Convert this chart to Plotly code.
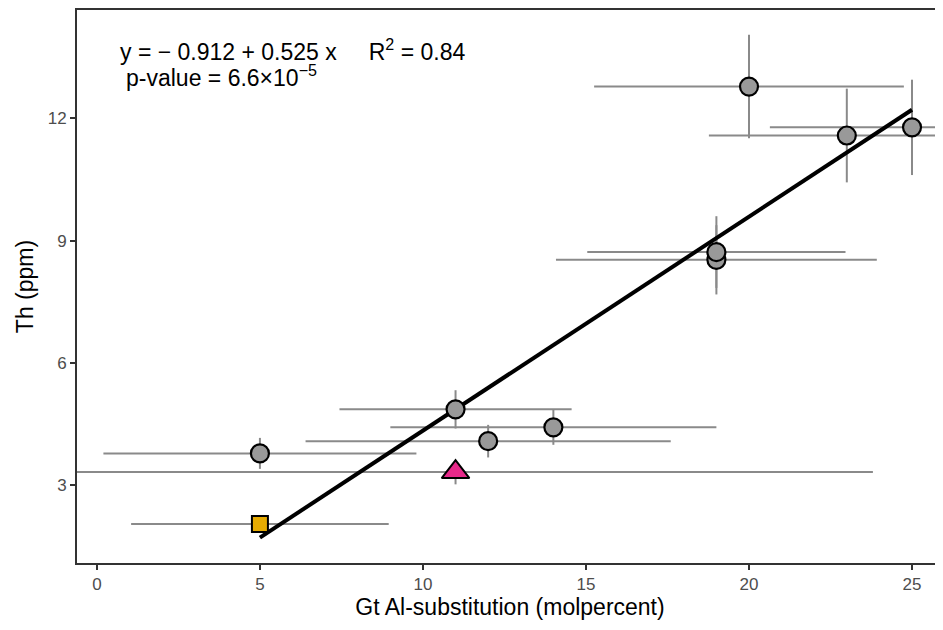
import plotly.graph_objects as go

# Data: Gt Al-substitution (molpercent) vs Th (ppm)
circle_x = [5, 11, 12, 14, 19, 19, 20, 23, 25]
circle_y = [3.78, 4.86, 4.08, 4.42, 8.53, 8.72, 12.78, 11.58, 11.78]
circle_xerr = [4.8, 3.56, 5.6, 5.0, 4.92, 3.96, 4.75, 4.23, 4.36]
circle_yerr = [0.38, 0.47, 0.4, 0.43, 0.85, 0.88, 1.27, 1.15, 1.17]

square_x = [5]
square_y = [2.05]
square_xerr = [3.95]
square_yerr = [0.0]

triangle_x = [11]
triangle_y = [3.32]
triangle_xerr = [12.8]
triangle_yerr = [0.3]

# regression coefficients
intercept = -0.912
slope = 0.525
fit_x = [5, 25]
fit_y = [intercept + slope * v for v in fit_x]

x_ticks = [0, 5, 10, 15, 20, 25]
y_ticks = [3, 6, 9, 12]

ERR_COL = "#8a8a8a"
FONT = "Liberation Sans, Arial, Helvetica"

fig = go.Figure()

def err_trace(xs, ys, xe, ye):
    return go.Scatter(
        x=xs, y=ys, mode="markers",
        marker=dict(size=0.1, opacity=0),
        error_x=dict(type="data", array=xe, color=ERR_COL, thickness=2, width=0),
        error_y=dict(type="data", array=ye, color=ERR_COL, thickness=2, width=0),
        showlegend=False, hoverinfo="skip")

fig.add_trace(err_trace(circle_x, circle_y, circle_xerr, circle_yerr))
fig.add_trace(err_trace(square_x, square_y, square_xerr, square_yerr))
fig.add_trace(err_trace(triangle_x, triangle_y, triangle_xerr, triangle_yerr))

fig.add_trace(go.Scatter(x=fit_x, y=fit_y, mode="lines",
                         line=dict(color="black", width=4), showlegend=False))

fig.add_trace(go.Scatter(x=circle_x, y=circle_y, mode="markers",
                         marker=dict(symbol="circle", size=18, color="#999999",
                                     line=dict(color="black", width=2.2)),
                         showlegend=False))
fig.add_trace(go.Scatter(x=square_x, y=square_y, mode="markers",
                         marker=dict(symbol="square", size=16, color="#E6AB02",
                                     line=dict(color="black", width=2)),
                         showlegend=False))
fig.add_trace(go.Scatter(x=triangle_x, y=triangle_y, mode="markers",
                         marker=dict(symbol="triangle-up", size=24, color="#E7298A",
                                     line=dict(color="black", width=2)),
                         showlegend=False))

fig.add_annotation(xref="paper", yref="paper", x=0.047, y=0.958,
                   xanchor="left", yanchor="top", showarrow=False,
                   text="y = \u2212 0.912 + 0.525 x&nbsp;&nbsp;&nbsp;&nbsp;&nbsp;R<sup>2</sup> = 0.84",
                   font=dict(family=FONT, size=23, color="black"))
fig.add_annotation(xref="paper", yref="paper", x=0.054, y=0.912,
                   xanchor="left", yanchor="top", showarrow=False,
                   text="p-value = 6.6\u00d710<sup>\u22125</sup>",
                   font=dict(family=FONT, size=23, color="black"))

fig.update_layout(
    width=935, height=622,
    margin=dict(l=69, r=0, t=0, b=67),
    plot_bgcolor="white", paper_bgcolor="white",
    font=dict(family=FONT, color="black"),
    xaxis=dict(range=[-0.61, 25.95], tickvals=x_ticks, showgrid=False, zeroline=False,
               showline=True, linecolor="#333333", linewidth=2, mirror=True,
               ticks="outside", ticklen=5, tickwidth=1.5, tickcolor="#333333",
               tickfont=dict(size=17, color="#4D4D4D"),
               title=dict(text="Gt Al-substitution (molpercent)", font=dict(size=23, color="black"),
                          standoff=2)),
    yaxis=dict(range=[1.09, 14.66], tickvals=y_ticks, showgrid=False, zeroline=False,
               showline=True, linecolor="#333333", linewidth=2, mirror=False,
               ticks="outside", ticklen=5, tickwidth=1.5, tickcolor="#333333",
               tickfont=dict(size=17, color="#4D4D4D"),
               title=dict(text="Th (ppm)", font=dict(size=23, color="black"), standoff=8)),
)

fig.write_html("out.html")
